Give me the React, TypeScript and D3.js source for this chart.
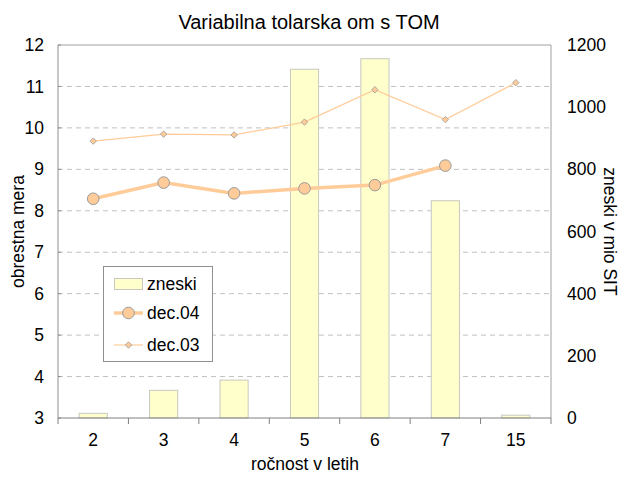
import React from "react";
import * as d3 from "d3";

const categories = ["2", "3", "4", "5", "6", "7", "15"];
const zneski = [15, 89, 122, 1122, 1156, 699, 9];
const dec04: (number | null)[] = [8.29, 8.68, 8.42, 8.54, 8.62, 9.09, null];
const dec03 = [9.68, 9.85, 9.83, 10.14, 10.92, 10.2, 11.09];
const leftTicks = [3, 4, 5, 6, 7, 8, 9, 10, 11, 12];
const rightTicks = [0, 200, 400, 600, 800, 1000, 1200];

const W = 624, H = 477;
const L = 58, R = 551, T = 45, B = 418;
const FONT = "'Liberation Sans', Arial, sans-serif";
const ORANGE = "#FFCC99";
const FS = 17.5;

export default function App() {
  const x = d3.scaleBand<string>().domain(categories).range([L, R]).paddingInner(0.6).paddingOuter(0.3);
  const yL = d3.scaleLinear().domain([3, 12]).range([B, T]);
  const yR = d3.scaleLinear().domain([0, 1200]).range([B, T]);
  const step = x.step();
  const cx = (c: string) => (x(c) as number) + x.bandwidth() / 2;

  const line04 = d3.line<number | null>()
    .defined((d) => d != null)
    .x((_, i) => cx(categories[i]))
    .y((d) => yL(d as number));
  const line03 = d3.line<number>()
    .x((_, i) => cx(categories[i]))
    .y((d) => yL(d));

  const diamond = (px: number, py: number, s: number) =>
    `M${px},${py - s}L${px + s},${py}L${px},${py + s}L${px - s},${py}Z`;

  const boundaries = d3.range(categories.length + 1).map((i) => L + i * step);

  return (
    <svg width={W} height={H} style={{ position: "absolute", left: 0, top: 0, background: "#fff" }} fontFamily={FONT}>
      <rect x={0} y={0} width={W} height={H} fill="#fff" />
      <text x={309} y={22} dy="0.35em" textAnchor="middle" fontSize={20} fill="#000">Variabilna tolarska om s TOM</text>

      {/* gridlines */}
      {leftTicks.filter((t) => t > 3 && t < 12).map((t) => (
        <line key={t} x1={L} x2={R} y1={yL(t)} y2={yL(t)} stroke="#C0C0C0" strokeDasharray="5,4" />
      ))}

      {/* plot border */}
      <line x1={L} x2={R} y1={T} y2={T} stroke="#A0A0A0" />
      <line x1={R} x2={R} y1={T} y2={B} stroke="#A0A0A0" />
      <line x1={L} x2={L} y1={T} y2={B} stroke="#909090" />
      {leftTicks.map((t) => (
        <line key={"lt" + t} x1={L} x2={L + 3} y1={yL(t)} y2={yL(t)} stroke="#909090" />
      ))}

      {/* bars */}
      {zneski.map((v, i) => (
        <rect key={i} x={x(categories[i])} y={yR(v)} width={x.bandwidth()} height={B - yR(v)}
          fill="#FFFFCC" stroke="#C8C8C0" strokeWidth={1} />
      ))}

      {/* x axis */}
      <line x1={L} x2={R} y1={B} y2={B} stroke="#808080" />
      {boundaries.map((b, i) => (
        <line key={"xt" + i} x1={b} x2={b} y1={B} y2={B + 6} stroke="#808080" />
      ))}

      {/* dec.03 line */}
      <path d={line03(dec03) || ""} fill="none" stroke={ORANGE} strokeWidth={1.2} />
      {dec03.map((v, i) => (
        <path key={"d3" + i} d={diamond(cx(categories[i]), yL(v), 3.2)} fill={ORANGE} stroke="#999" strokeWidth={0.8} />
      ))}

      {/* dec.04 line */}
      <path d={line04(dec04) || ""} fill="none" stroke={ORANGE} strokeWidth={3.5} />
      {dec04.map((v, i) => v == null ? null : (
        <circle key={"d4" + i} cx={cx(categories[i])} cy={yL(v)} r={5.8} fill={ORANGE} stroke="#999" strokeWidth={1} />
      ))}

      {/* left axis labels */}
      {leftTicks.map((t) => (
        <text key={"ll" + t} x={44} y={yL(t)} dy="0.35em" textAnchor="end" fontSize={FS}>{t}</text>
      ))}
      {/* right axis labels */}
      {rightTicks.map((t) => (
        <text key={"rl" + t} x={567} y={yR(t)} dy="0.35em" textAnchor="start" fontSize={FS}>{t}</text>
      ))}
      {/* x labels */}
      {categories.map((c) => (
        <text key={"xl" + c} x={cx(c)} y={440} dy="0.35em" textAnchor="middle" fontSize={FS}>{c}</text>
      ))}

      <text x={305} y={464} dy="0.35em" textAnchor="middle" fontSize={FS}>ročnost v letih</text>
      <text transform={`translate(18,${(T + B) / 2}) rotate(-90)`} dy="0.35em" textAnchor="middle" fontSize={FS}>obrestna mera</text>
      <text transform={`translate(610,${(T + B) / 2}) rotate(90)`} dy="0.35em" textAnchor="middle" fontSize={FS}>zneski v mio SIT</text>

      {/* legend */}
      <rect x={103.5} y={266.5} width={109} height={95} fill="#fff" stroke="#909090" />
      <rect x={114.5} y={278.5} width={28} height={11} fill="#FFFFCC" stroke="#C8C8C0" />
      <text x={147} y={284} dy="0.35em" fontSize={FS}>zneski</text>
      <line x1={114} x2={143} y1={313} y2={313} stroke={ORANGE} strokeWidth={3.5} />
      <circle cx={128.5} cy={313} r={5.8} fill={ORANGE} stroke="#999" strokeWidth={1} />
      <text x={147} y={313} dy="0.35em" fontSize={FS}>dec.04</text>
      <line x1={114} x2={143} y1={345} y2={345} stroke={ORANGE} strokeWidth={1.2} />
      <path d={diamond(128.5, 345, 3.2)} fill={ORANGE} stroke="#999" strokeWidth={0.8} />
      <text x={147} y={345} dy="0.35em" fontSize={FS}>dec.03</text>
    </svg>
  );
}
